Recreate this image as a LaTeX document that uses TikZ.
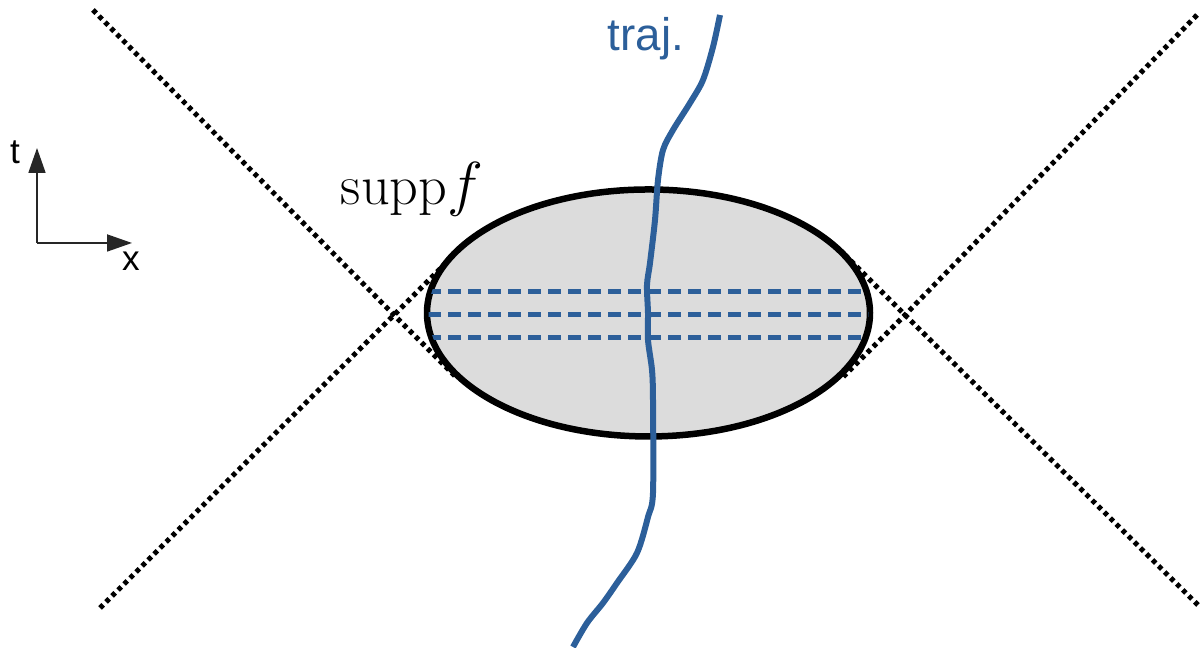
\documentclass[tikz,border=0pt]{standalone}
\usepackage{amsmath}
\usepackage{fontspec}
\setsansfont{Liberation Sans}
\usepackage{xcolor}
\usepackage{tikz}
\usetikzlibrary{arrows.meta}
\definecolor{trajblue}{HTML}{2C5F9A}
\definecolor{suppfill}{HTML}{DCDCDC}
\tikzset{
  cone/.style={line width=0.5mm, dash pattern=on 0.45mm off 0.4mm, draw=black},
  support/.style={line width=0.65mm, draw=black, fill=suppfill},
  slice/.style={line width=0.5mm, draw=trajblue, dash pattern=on 1.3mm off 0.7mm},
  worldline/.style={line width=0.6mm, draw=trajblue, line join=round},
  axis/.style={line width=0.18mm, draw=black!85, -{Triangle[length=2.5mm,width=1.7mm]}},
  axislabel/.style={font=\sffamily\fontsize{10}{12}\selectfont, inner sep=0pt},
  trajlabel/.style={font=\sffamily\fontsize{13}{15}\selectfont, text=trajblue, inner sep=0pt},
  supplabel/.style={font=\fontsize{16}{19}\selectfont, inner sep=0pt}
}

\begin{document}
\begin{tikzpicture}[x=1cm,y=1cm]
\path[use as bounding box] (0,0) rectangle (12.03,6.48);

% time and space axes
\coordinate (origin) at (0.37,4.05);
\coordinate (tip t) at (0.37,5.00);
\coordinate (tip x) at (1.32,4.05);
\draw[axis] (origin) -- (tip t);
\draw[axis] (origin) -- (tip x);
\node[axislabel] (t) at (0.15,4.96) {t};
\node[axislabel] (x) at (1.31,3.87) {x};

% light cones meeting at the two tips
\coordinate (left) at (3.94,3.33);
\coordinate (right) at (9.05,3.33);
\draw[cone] (0.93,6.38) -- (left) -- (4.56,2.71);
\draw[cone] (1.00,0.40) -- (left) -- (4.56,3.95);
\draw[cone] (11.97,6.33) -- (right) -- (8.43,2.71);
\draw[cone] (11.98,0.43) -- (right) -- (8.43,3.95);

% support of f
\coordinate (centre) at (6.485,3.35);
\draw[support] (centre) ellipse [x radius=2.215, y radius=1.235];
\begin{scope}
  \clip (centre) ellipse [x radius=2.20, y radius=1.22];
  \foreach \h in {3.56,3.33,3.10}
    \draw[slice] (4.28,\h) -- (8.80,\h);
\end{scope}
\node[supplabel, anchor=base] (supp) at (4.12,4.43) {$\mathrm{supp}f$};

% trajectory
\draw[worldline] plot[smooth, tension=0.5] coordinates {
  (7.20,6.33) (7.13,6.01) (7.03,5.68) (6.90,5.45) (6.73,5.18) (6.63,4.98)
  (6.58,4.68) (6.55,4.28) (6.50,3.85) (6.47,3.63) (6.48,3.35) (6.48,3.08)
  (6.52,2.78) (6.53,2.48) (6.53,1.55) (6.48,1.31) (6.37,0.95) (6.17,0.65)
  (6.03,0.45) (5.87,0.25) (5.73,0.01)};
\node[trajlabel, anchor=base] (traj) at (6.46,5.97) {traj.};
\end{tikzpicture}
\end{document}
